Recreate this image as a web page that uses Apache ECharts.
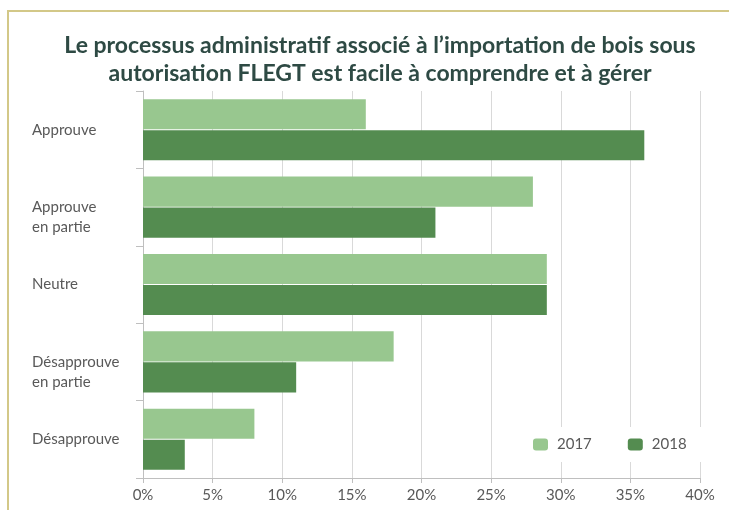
<!DOCTYPE html>
<html>
<head>
<meta charset="utf-8">
<script src="https://cdn.jsdelivr.net/npm/echarts@6/dist/echarts.min.js"></script>
<style>
html,body{margin:0;padding:0;background:#fff;}
#frame{position:absolute;left:7px;top:10px;width:740px;height:520px;border-top:2px solid #d3c888;border-left:2px solid #d3c888;}
#main{position:absolute;left:0;top:0;width:729px;height:510px;}
</style>
</head>
<body>
<div id="frame"></div>
<div id="main"></div>
<script>
var categories = ['Approuve', 'Approuve\nen partie', 'Neutre', 'Désapprouve\nen partie', 'Désapprouve'];
var values2017 = [16, 28, 29, 18, 8];
var values2018 = [36, 21, 29, 11, 3];
var seriesNames = ['2017', '2018'];

var myChart = echarts.init(document.getElementById('main'));
var labelFont = 'Lato';
var option = {
    animation: false,
    title: {
        text: 'Le processus administratif associé à l\u2019importation de bois sous\nautorisation FLEGT est facile à comprendre et à gérer',
        left: 375,
        textAlign: 'center',
        top: 27,
        textStyle: {
            fontFamily: labelFont,
            fontSize: 23,
            fontWeight: 'bold',
            color: '#2e4a44',
            lineHeight: 28
        }
    },
    legend: {
        data: seriesNames,
        left: 510,
        top: 427,
        padding: [10, 25, 10, 23],
        itemWidth: 15,
        itemHeight: 12,
        itemGap: 36,
        backgroundColor: '#fff',
        textStyle: { fontFamily: labelFont, fontSize: 15, color: '#595959', padding: [0, 0, 0, 4] }
    },
    grid: { left: 143, right: 29, top: 91, bottom: 32, containLabel: false },
    xAxis: {
        type: 'value',
        min: 0,
        max: 40,
        interval: 5,
        axisLine: { show: true, lineStyle: { color: '#bfbfbf' } },
        axisTick: { show: true, length: 5, lineStyle: { color: '#bfbfbf' } },
        axisLabel: { formatter: '{value}%', fontFamily: labelFont, fontSize: 15, color: '#595959', margin: 10 },
        splitLine: { show: true, lineStyle: { color: '#d9d9d9' } }
    },
    yAxis: {
        type: 'category',
        inverse: true,
        data: categories,
        axisLine: { show: true, lineStyle: { color: '#bfbfbf' } },
        axisTick: { show: true, length: 7, lineStyle: { color: '#bfbfbf' } },
        axisLabel: {
            align: 'left',
            margin: 111,
            fontFamily: labelFont,
            fontSize: 15,
            color: '#595959',
            lineHeight: 20,
            padding: [4, 0, 0, 0],
            // premiere ligne du libelle sur le centre de la categorie
            formatter: function (v) { return v.indexOf('\n') >= 0 ? '\n' + v : v; }
        }
    },
    series: [
        {
            name: seriesNames[0],
            type: 'bar',
            data: values2017,
            barCategoryGap: '21%',
            barGap: '3%',
            itemStyle: { color: '#98c78f' }
        },
        {
            name: seriesNames[1],
            type: 'bar',
            data: values2018,
            itemStyle: { color: '#548c50' }
        }
    ]
};
myChart.setOption(option);
</script>
</body>
</html>
